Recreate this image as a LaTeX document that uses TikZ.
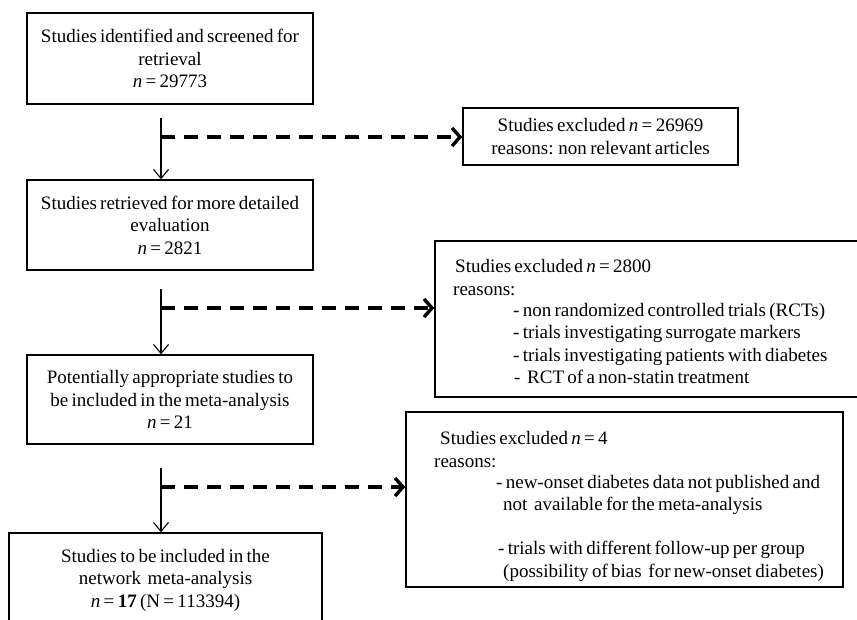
\documentclass[tikz,border=0pt]{standalone}
\usepackage{fontspec}
\setmainfont{Liberation Serif}[WordSpace=0.7]
\usetikzlibrary{arrows.meta}
\begin{document}
\begin{tikzpicture}[x=1pt,y=-1pt,
  font=\fontsize{19}{22.5}\selectfont,
  flowbox/.style={draw, line width=1.4pt, inner sep=0pt, align=center},
  txt/.style={inner sep=0pt, anchor=base west},
  flow/.style={line width=1.1pt, -{Straight Barb[length=9pt,width=15pt]}},
  excl/.style={line width=3.6pt, dash pattern=on 14pt off 9pt,
               -{Straight Barb[length=8pt,width=18pt,line width=3.4pt]}}]
\useasboundingbox (0,0) rectangle (857,620);
\clip (0,0) rectangle (857,620);
\fill[white] (0,0) rectangle (857,620);

% main column
\node[flowbox, minimum width=286pt, minimum height=91pt] (b1) at (170,58.5)
  {Studies identified and screened for\\ retrieval\\ \textit{n} = 29773};
\node[flowbox, minimum width=286pt, minimum height=90pt] (b3) at (170,225)
  {Studies retrieved for more detailed\\ evaluation\\ \textit{n} = 2821};
\node[flowbox, minimum width=286pt, minimum height=89pt] (b5) at (170,399.5)
  {Potentially appropriate studies to\\ be included in the meta-analysis\\ \textit{n} = 21};
\node[flowbox, minimum width=313pt, minimum height=94pt] (b7) at (165.5,580)
  {Studies to be included in the\\ network\ \ meta-analysis\\ \textit{n} = \textbf{17} (N = 113394)};

% exclusion boxes
\node[flowbox, minimum width=275pt, minimum height=57pt] (b2) at (600.5,136.5)
  {Studies excluded \textit{n} = 26969\\ reasons: non relevant articles};
\node[flowbox, minimum width=435pt, minimum height=156pt] (b4) at (652.5,319) {};
\node[flowbox, minimum width=437pt, minimum height=175pt] (b6) at (624.5,499.5) {};

% text of exclusion box 2800
\node[txt] (t41) at (455,273) {Studies excluded \textit{n} = 2800};
\node[txt] (t42) at (453,296) {reasons:};
\node[txt] (t43) at (513,317) {- non randomized controlled trials (RCTs)};
\node[txt] (t44) at (513,339) {- trials investigating surrogate markers};
\node[txt] (t45) at (513,362) {- trials investigating patients with diabetes};
\node[txt] (t46) at (514,383) {-\ \ RCT of a non-statin treatment};

% text of exclusion box 4
\node[txt] (t61) at (440,444) {Studies excluded \textit{n} = 4};
\node[txt] (t62) at (434,467) {reasons:};
\node[txt] (t63) at (496,488) {- new-onset diabetes data not published and};
\node[txt] (t64) at (503,510) {not\ \ available for the meta-analysis};
\node[txt] (t65) at (498,554) {- trials with different follow-up per group};
\node[txt] (t66) at (503,577) {(possibility of bias\ \ for new-onset diabetes)};

% connectors
\coordinate (s1) at (161,118);
\coordinate (s2) at (161,289);
\coordinate (s3) at (161,468);
\coordinate (j1) at (161,137);
\coordinate (j2) at (161,308);
\coordinate (j3) at (161,487);

\draw[flow] (s1) -- (s1 |- b3.north);
\draw[flow] (s2) -- (s2 |- b5.north);
\draw[flow] (s3) -- (s3 |- b7.north);

\draw[excl] (j1) -- (j1 -| b2.west);
\draw[excl] (j2) -- (j2 -| b4.west);
\draw[excl] (j3) -- (j3 -| b6.west);
\end{tikzpicture}
\end{document}
